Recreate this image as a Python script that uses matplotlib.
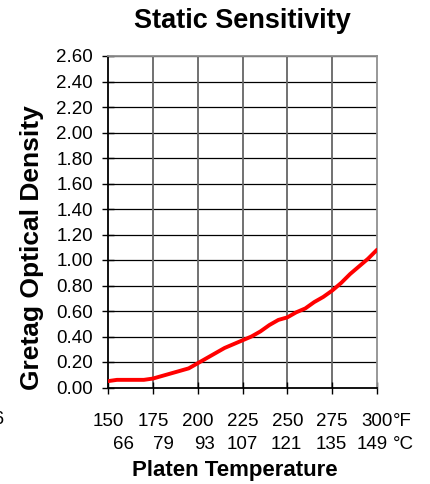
import matplotlib.pyplot as plt
from matplotlib.transforms import offset_copy

plt.rcParams['font.family'] = ['Liberation Sans', 'DejaVu Sans']

# platen temperature (deg F) vs optical density
temp_f = [150, 155, 160, 165, 170, 175, 180, 185, 190, 195, 200, 205, 210, 215, 220,
          225, 230, 235, 240, 245, 250, 255, 260, 265, 270, 275, 280, 285, 290, 295, 300]
density = [0.05, 0.06, 0.06, 0.06, 0.06, 0.07, 0.09, 0.11, 0.13, 0.15, 0.19, 0.23, 0.27,
           0.31, 0.34, 0.37, 0.40, 0.44, 0.49, 0.53, 0.55, 0.59, 0.62, 0.67, 0.71, 0.76,
           0.82, 0.89, 0.95, 1.01, 1.08]

f_ticks = [150, 175, 200, 225, 250, 275, 300]
c_labels = ["66", "79", "93", "107", "121", "135", "149"]
y_ticks = [0.0, 0.2, 0.4, 0.6, 0.8, 1.0, 1.2, 1.4, 1.6, 1.8, 2.0, 2.2, 2.4, 2.6]

W, H = 430, 484
X0, X1, Y0, Y1 = 108, 377, 387.5, 56  # axes box in pixels

def fy(py):
    return 1 - py / H

fig = plt.figure(figsize=(W / 100, H / 100), dpi=100)
ax = fig.add_axes([X0 / W, fy(Y0), (X1 - X0) / W, (Y0 - Y1) / H])

ax.plot(temp_f, density, color='#ff0000', lw=2.8, zorder=3, solid_capstyle='round')

ax.set_xlim(150, 300)
ax.set_ylim(0, 2.6)
ax.set_yticks(y_ticks)
ax.set_yticklabels(["%.2f" % v for v in y_ticks], fontsize=13.5)
ax.set_xticks(f_ticks)
ax.set_xticklabels([])
ax.tick_params(axis='both', direction='inout', length=8.6, width=1, color='black')
ax.tick_params(axis='y', pad=6.5)

# grid: black horizontals, grey verticals
for v in y_ticks[1:]:
    ax.axhline(v, color='black', lw=0.9, zorder=1)
for t in f_ticks[1:-1]:
    ax.axvline(t, color='#666666', lw=1.3, zorder=1)

ax.spines['left'].set_color('black')
ax.spines['bottom'].set_color('black')
ax.spines['top'].set_color('#909090')
ax.spines['right'].set_color('#909090')
for s in ax.spines.values():
    s.set_linewidth(1.3)

# two row x labels: deg F and deg C
trans = ax.get_xaxis_transform()
c_shift = [15, 11, 7, 0, -1, -1, -5]  # px, the C row sits slightly right-aligned
row_f = (Y0 - 426) / (Y0 - Y1)
row_c = (Y0 - 449) / (Y0 - Y1)
for i, t in enumerate(f_ticks):
    ax.text(t, row_f, str(t), transform=trans, ha='center', va='baseline', fontsize=13.5)
    tr = offset_copy(trans, fig=fig, x=c_shift[i], units='dots')
    ax.text(t, row_c, c_labels[i], transform=tr, ha='center', va='baseline', fontsize=13.5)
tr_u = offset_copy(trans, fig=fig, x=16, units='dots')
ax.text(300, row_f, "°F", transform=tr_u, ha='left', va='baseline', fontsize=13.5)
ax.text(300, row_c, "°C", transform=tr_u, ha='left', va='baseline', fontsize=13.5)

fig.text(242.5 / W, fy(28.5), "Static Sensitivity", ha='center', va='baseline',
         fontsize=19.5, fontweight='bold')
fig.text(235 / W, fy(476), "Platen Temperature", ha='center', va='baseline',
         fontsize=16, fontweight='bold')
fig.text(32 / W, fy(248), "Gretag Optical Density", ha='center', va='center',
         rotation=90, fontsize=19, fontweight='bold')
fig.text(3 / W, fy(419), "6", ha='right', va='center', fontsize=13)

fig.savefig("out.png", dpi=100)
